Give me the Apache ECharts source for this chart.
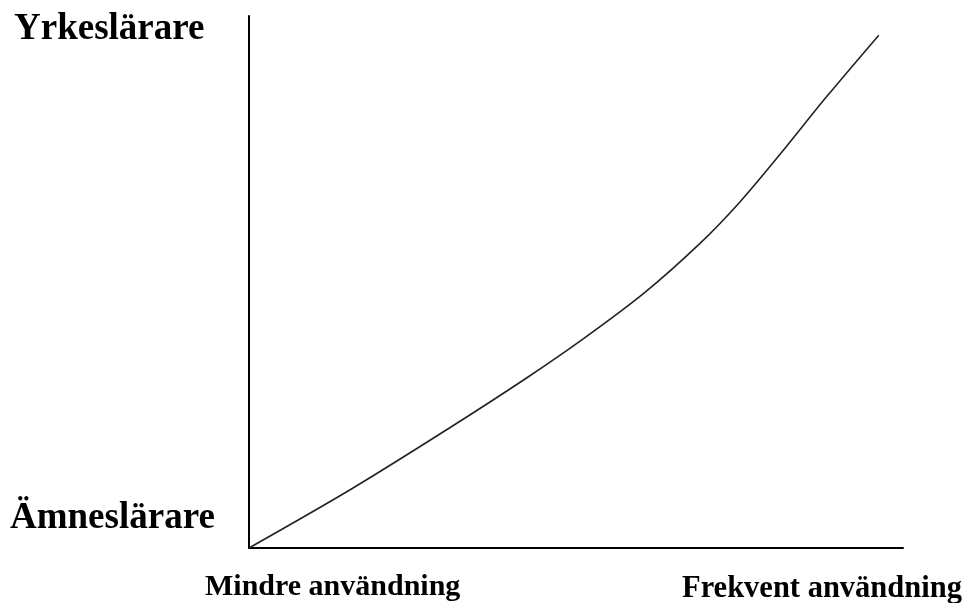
<!DOCTYPE html>
<html>
<head>
<meta charset="utf-8">
<script src="https://cdn.jsdelivr.net/npm/echarts@6/dist/echarts.min.js"></script>
<style>
html,body{margin:0;padding:0;background:#fff;}
#chart{width:966px;height:603px;}
</style>
</head>
<body>
<div id="chart"></div>
<script>
// Curve samples (x: usage frequency 0-100, y: teacher type 0-100)
var curveX = [0, 15.4, 30.7, 42.5, 51.1, 60.3, 69.0, 75.1, 81.2, 88.3, 96.3];
var curveY = [0, 10.9, 22.6, 32.0, 39.3, 47.8, 57.3, 65.1, 74.0, 84.8, 96.4];
// Axis end labels
var yLabels = ['Ämneslärare', 'Yrkeslärare'];
var xLabels = ['Mindre användning', 'Frekvent användning'];

var chart = echarts.init(document.getElementById('chart'), null, {renderer: 'canvas'});
var data = curveX.map(function (x, i) { return [x, curveY[i]]; });
var font = '"Liberation Serif", "Times New Roman", serif';

chart.setOption({
  animation: false,
  backgroundColor: '#fff',
  grid: {left: 249, right: 63, top: 16, bottom: 55, containLabel: false},
  xAxis: {
    type: 'value', min: 0, max: 100,
    axisLine: {show: true, lineStyle: {color: '#000', width: 2}},
    axisTick: {show: false}, axisLabel: {show: false}, splitLine: {show: false}
  },
  yAxis: {
    type: 'value', min: 0, max: 100,
    axisLine: {show: true, lineStyle: {color: '#000', width: 2}},
    axisTick: {show: false}, axisLabel: {show: false}, splitLine: {show: false}
  },
  series: [{
    type: 'line',
    data: data,
    smooth: 0.3,
    symbol: 'none',
    lineStyle: {color: '#222', width: 1.6}
  }],
  graphic: [
    {type: 'text', left: 14, top: 11, style: {text: yLabels[1], font: 'bold 37px ' + font, fill: '#000'}},
    {type: 'text', left: 10, top: 500, style: {text: yLabels[0], font: 'bold 37px ' + font, fill: '#000'}},
    {type: 'text', left: 205, top: 572, style: {text: xLabels[0], font: 'bold 30px ' + font, fill: '#000'}},
    {type: 'text', left: 682, top: 574, style: {text: xLabels[1], font: 'bold 30.5px ' + font, fill: '#000'}}
  ]
});
</script>
</body>
</html>
